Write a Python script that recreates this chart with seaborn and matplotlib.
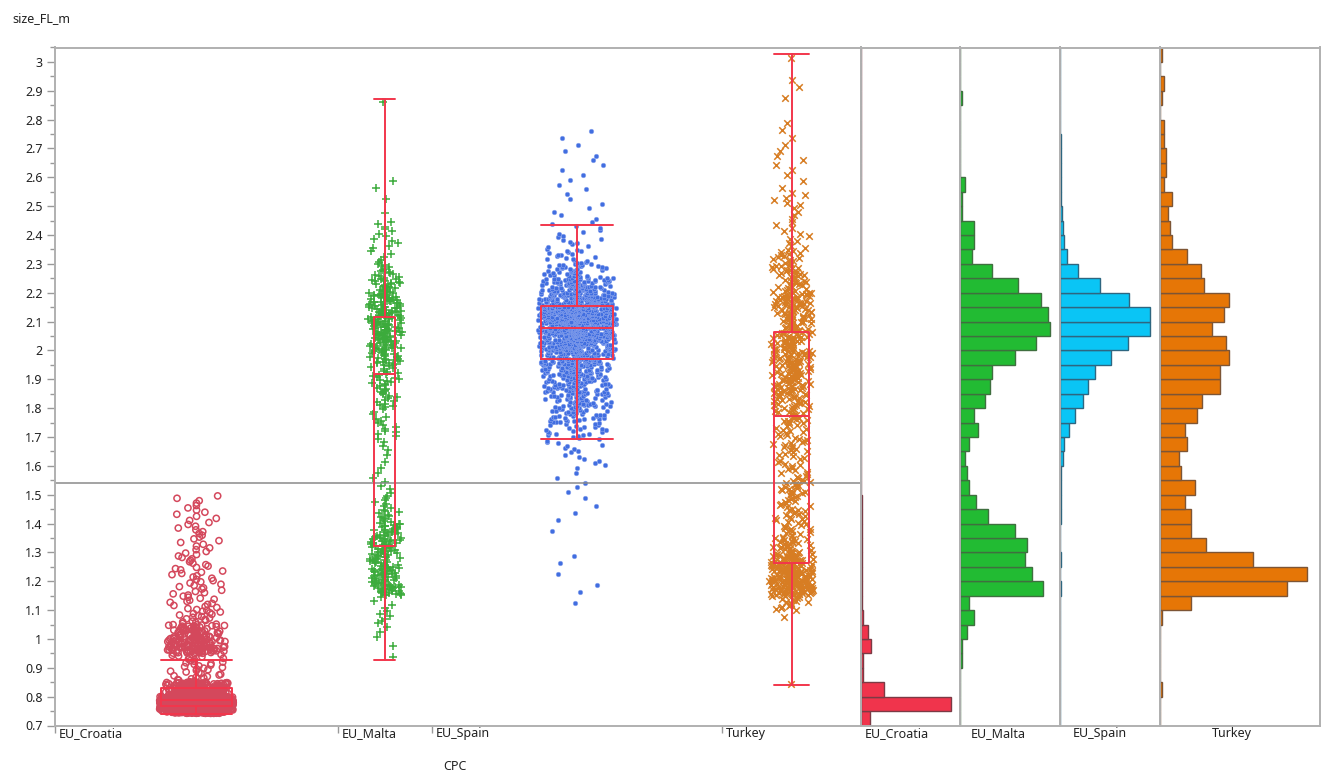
import numpy as np
import pandas as pd
import matplotlib
matplotlib.use("Agg")
import matplotlib.pyplot as plt
import seaborn as sns
from matplotlib import transforms
from matplotlib.ticker import MultipleLocator, FuncFormatter

# ---------------- data ----------------
groups = ["EU_Croatia", "EU_Malta", "EU_Spain", "Turkey"]
bin_start = 0.70
bin_width = 0.05
# counts per 0.05 bin, bins 0.70-0.75 ... 3.00-3.05 (47 bins)
croatia_counts = [85, 846, 216, 19, 19, 94, 66, 19, 14, 12, 12, 10, 8, 8, 7, 6] + [0] * 31
malta_counts = [0, 0, 0, 0, 1, 1, 3, 6, 4, 36, 31, 28, 29, 24, 12, 7, 4, 3, 2, 4, 8, 6, 11, 13,
                14, 24, 33, 39, 38, 35, 25, 14, 5, 6, 6, 1, 1, 2, 0, 0, 0, 0, 0, 1, 0, 0, 0]
spain_counts = [0, 0, 0, 0, 0, 0, 0, 0, 1, 2, 1, 2, 0, 1, 2, 2, 3, 3, 7, 10, 23, 39, 59, 72,
                91, 133, 177, 234, 234, 180, 103, 47, 18, 10, 7, 4, 3, 3, 3, 3, 2, 1, 0, 0, 0, 0, 0]
turkey_counts = [0, 0, 1, 0, 0, 0, 0, 1, 16, 66, 76, 48, 24, 16, 16, 13, 18, 11, 10, 14, 13, 19, 22, 31,
                 31, 36, 34, 27, 33, 36, 23, 21, 14, 6, 5, 4, 6, 2, 3, 3, 2, 2, 0, 1, 2, 0, 1]
group_min = [0.742, 0.925, 1.10, 0.84]
group_max = [1.50, 2.87, 2.77, 3.03]

# box plot summary (quantiles and whisker ends)
box_whislo = [0.740, 0.927, 1.694, 0.840]
box_q1 = [0.768, 1.323, 1.971, 1.264]
box_med = [0.788, 1.919, 2.079, 1.774]
box_q3 = [0.830, 2.117, 2.153, 2.065]
box_whishi = [0.927, 2.870, 2.436, 3.029]
grand_mean = 1.541

# ---------------- styles ----------------
pt_colors = ["#d4485c", "#3cab3c", "#416ee0", "#d77d23"]
pt_markers = ["o", "+", "o", "x"]
hist_fill = ["#f0344c", "#22bb33", "#0ac5f5", "#e67606"]
hist_edge = ["#7b3b45", "#3f6f3f", "#2e6680", "#7d5535"]
box_color = "#f2364c"
frame_color = "#b0b0b0"
box_frac = [0.25, 0.22, 0.25, 0.25]
jitter_frac = [0.13, 0.18, 0.135, 0.16]
hist_fill_frac = [0.907, 0.90, 0.90, 0.917]

all_counts = [croatia_counts, malta_counts, spain_counts, turkey_counts]
sizes = [sum(c) for c in all_counts]
starts = np.concatenate([[0], np.cumsum(sizes)[:-1]])
centers = starts + np.array(sizes) / 2.0
total = float(sum(sizes))


def scramble(k, g):
    # deterministic, irregular jitter position in [0, 1)
    return (np.sin(k * 78.233 + g * 12.9898 + 1.7) * 43758.5453) % 1.0


# build points from the binned counts
rows = []
for g, (name, counts) in enumerate(zip(groups, all_counts)):
    cmax = max(counts)
    k = 0
    for i, c in enumerate(counts):
        if c == 0:
            continue
        lo_b = bin_start + i * bin_width
        lo = max(lo_b, group_min[g])
        hi = min(lo_b + bin_width, group_max[g])
        if hi <= lo:
            lo, hi = lo_b, lo_b + bin_width
        spread = 0.62 + 0.38 * (c / cmax) ** 0.3
        for j in range(c):
            v = lo + (hi - lo) * (j + 0.5) / c
            u = scramble(k, g) * 2 - 1
            u = np.sign(u) * abs(u) ** 1.55
            x = centers[g] + u * spread * jitter_frac[g] * sizes[g]
            rows.append((name, v, x))
            k += 1
df = pd.DataFrame(rows, columns=["CPC", "size_FL_m", "xpos"])

# ---------------- figure ----------------
sns.set_theme(style="white")
plt.rcParams["font.family"] = ["Noto Sans", "DejaVu Sans"]
plt.rcParams["font.size"] = 9

W, H = 1329, 775
fig = plt.figure(figsize=(W / 100, H / 100), dpi=100)
y_bot, y_top = 725.5, 47.5


def rect(x0, x1):
    return [x0 / W, (H - y_bot) / H, (x1 - x0) / W, (y_bot - y_top) / H]


ax = fig.add_axes(rect(55, 861))
ylim = (0.70, 3.05)

for g, name in enumerate(groups):
    sub = df[df["CPC"] == name]
    if g == 0:
        sns.scatterplot(data=sub, x="xpos", y="size_FL_m", ax=ax, marker="o", s=20,
                        facecolor="none", edgecolor=pt_colors[g], linewidth=1.1, legend=False)
    elif g == 2:
        sns.scatterplot(data=sub, x="xpos", y="size_FL_m", ax=ax, marker="o", s=11,
                        color=pt_colors[g], edgecolor="#8aa4ee", linewidth=0.4, legend=False)
    else:
        sns.scatterplot(data=sub, x="xpos", y="size_FL_m", ax=ax, marker=pt_markers[g],
                        s=30 if g == 1 else 22, color=pt_colors[g], linewidth=1.1, legend=False)

stats = []
for g in range(4):
    stats.append(dict(med=box_med[g], q1=box_q1[g], q3=box_q3[g],
                      whislo=box_whislo[g], whishi=box_whishi[g], fliers=[]))
bw = [box_frac[g] * sizes[g] for g in range(4)]
lp = dict(color=box_color, linewidth=1.4)
ax.bxp(stats, positions=centers, widths=bw, capwidths=bw, showfliers=False,
       boxprops=lp, whiskerprops=lp, capprops=lp, medianprops=lp, manage_ticks=False)

ax.axhline(grand_mean, color="#8a8a8a", linewidth=1.1, zorder=1)

ax.set_xlim(0, total)
ax.set_ylim(*ylim)
ax.set_xlabel("")
ax.set_ylabel("")
ax.yaxis.set_major_locator(MultipleLocator(0.1))
ax.yaxis.set_minor_locator(MultipleLocator(0.05))
ax.yaxis.set_major_formatter(FuncFormatter(lambda v, p: f"{round(v, 2):g}"))
ax.tick_params(axis="y", which="major", length=6, width=1, color="#999999",
               direction="out", pad=3, labelsize=9, labelcolor="#222222", left=True)
ax.tick_params(axis="y", which="minor", length=3.5, width=1, color="#999999",
               direction="out", left=True)
ax.set_xticks(starts)
ax.set_xticklabels([])
ax.tick_params(axis="x", which="major", length=5, width=1, color="#999999",
               direction="out", bottom=True)
for s in ax.spines.values():
    s.set_color(frame_color)
    s.set_linewidth(1.4)

base = transforms.blended_transform_factory(ax.transData, ax.transAxes)
for g, name in enumerate(groups):
    tr = transforms.offset_copy(base, fig=fig, x=4, y=-8, units="dots")
    ax.text(starts[g], 0, name, transform=tr, ha="left", va="center",
            fontsize=9, color="#222222")

# histogram panels
panels = [(861, 960), (960, 1060), (1060, 1160), (1160, 1320)]
label_cx = [897, 998, 1100, 1232]
for g, name in enumerate(groups):
    hax = fig.add_axes(rect(*panels[g]))
    sub = df[df["CPC"] == name]
    sns.histplot(data=sub, y="size_FL_m", binwidth=bin_width, binrange=(bin_start, 3.05),
                 ax=hax, color=hist_fill[g], edgecolor=hist_edge[g], linewidth=1.0, alpha=1.0)
    hax.set_ylim(*ylim)
    hax.set_xlim(0, max(all_counts[g]) / hist_fill_frac[g])
    hax.set_xticks([])
    hax.set_yticks([])
    hax.set_xlabel("")
    hax.set_ylabel("")
    for s in hax.spines.values():
        s.set_color(frame_color)
        s.set_linewidth(1.4)
    fig.text(label_cx[g] / W, 1 - 734 / H, name, ha="center", va="center",
             fontsize=9, color="#222222")

fig.text(12 / W, 1 - 19 / H, "size_FL_m", ha="left", va="center", fontsize=9, color="#222222")
fig.text(455 / W, 1 - 766 / H, "CPC", ha="center", va="center", fontsize=9, color="#222222")

fig.savefig("out.png", dpi=100)
